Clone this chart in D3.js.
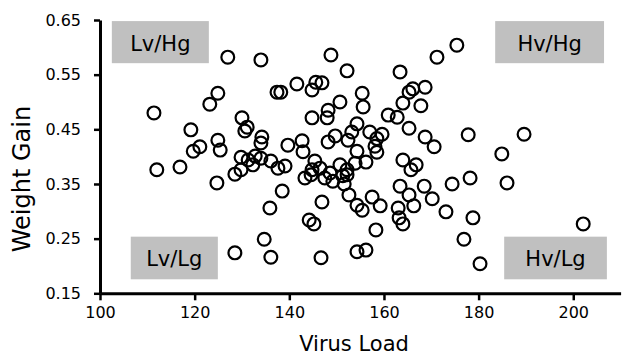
<!DOCTYPE html>
<html>
<head>
<meta charset="utf-8">
<script src="https://cdn.jsdelivr.net/npm/d3@7"></script>
<style>
    body { margin: 0; background: #fff; }
    text { font-family: 'DejaVu Sans', sans-serif; fill: #000; }
</style>
</head>
<body>
<div id="chart"></div>
<script>
// virus load / weight gain pairs
const virusLoad = [
    127.0, 134.0, 111.4, 124.9, 123.2, 119.2, 121.1, 119.7, 124.9, 125.4,
    112.0, 116.9, 124.7, 128.5, 129.8, 130.0, 131.1, 130.6, 134.2, 134.0,
    139.7, 142.7, 142.9, 129.8, 131.3, 132.8, 134.0, 132.3, 136.1, 137.6,
    139.1, 143.3, 144.6, 138.5, 135.9, 134.7, 136.1, 128.5, 148.8, 152.2,
    141.6, 137.4, 138.2, 145.6, 146.9, 144.8, 155.4, 155.6, 150.7, 148.2,
    148.0, 144.8, 149.7, 148.2, 152.4, 154.3, 153.2, 157.0, 159.6, 158.5,
    158.1, 158.5, 154.3, 145.4, 146.5, 144.8, 148.6, 147.5, 149.2, 150.7,
    152.2, 152.2, 151.3, 153.9, 151.6, 152.6, 146.9, 157.5, 154.3, 159.2,
    155.4, 144.2, 145.2, 158.3, 146.7, 154.3, 156.2, 175.4, 171.2, 163.4,
    168.7, 166.1, 165.3, 164.0, 167.8, 160.9, 162.8, 165.3, 168.7, 170.6,
    177.8, 189.6, 184.9, 164.0, 165.7, 166.8, 156.2, 163.4, 168.5, 174.4,
    178.2, 186.0, 165.3, 170.2, 166.3, 163.0, 163.2, 164.0, 173.1, 178.8,
    176.9, 180.3, 202.1
];
const weightGain = [
    0.582, 0.577, 0.480, 0.516, 0.496, 0.449, 0.418, 0.410, 0.430, 0.412,
    0.376, 0.381, 0.352, 0.368, 0.376, 0.471, 0.454, 0.447, 0.436, 0.425,
    0.421, 0.429, 0.409, 0.399, 0.394, 0.401, 0.397, 0.385, 0.392, 0.379,
    0.383, 0.361, 0.367, 0.337, 0.306, 0.249, 0.216, 0.224, 0.586, 0.557,
    0.533, 0.518, 0.518, 0.536, 0.535, 0.522, 0.516, 0.491, 0.500, 0.485,
    0.471, 0.471, 0.438, 0.427, 0.430, 0.460, 0.445, 0.445, 0.441, 0.433,
    0.419, 0.408, 0.410, 0.392, 0.379, 0.376, 0.370, 0.361, 0.355, 0.385,
    0.376, 0.367, 0.365, 0.388, 0.350, 0.330, 0.317, 0.326, 0.311, 0.310,
    0.302, 0.284, 0.277, 0.266, 0.215, 0.226, 0.229, 0.604, 0.582, 0.555,
    0.527, 0.524, 0.518, 0.498, 0.493, 0.476, 0.472, 0.452, 0.436, 0.418,
    0.440, 0.441, 0.405, 0.394, 0.376, 0.385, 0.390, 0.346, 0.346, 0.350,
    0.361, 0.352, 0.330, 0.323, 0.310, 0.306, 0.288, 0.277, 0.299, 0.288,
    0.249, 0.204, 0.277
];
const xTicks = [100, 120, 140, 160, 180, 200];
const yTicks = [0.15, 0.25, 0.35, 0.45, 0.55, 0.65];

// quadrant label boxes, in data units
const quadLabels = ['Lv/Hg', 'Hv/Hg', 'Lv/Lg', 'Hv/Lg'];
const quadX = [[102.5, 123.0], [183.5, 206.5], [106.5, 124.9], [185.4, 207.1]];
const quadY = [[0.648, 0.571], [0.648, 0.571], [0.2536, 0.1756], [0.2536, 0.1756]];

let width = 630;
let height = 359;
let margin = { top: 20, right: 9.4, bottom: 65.7, left: 100 };

let x = d3.scaleLinear()
    .domain([100, 210])
    .range([margin.left, width - margin.right]);

let y = d3.scaleLinear()
    .domain([0.15, 0.65])
    .range([height - margin.bottom, margin.top]);

const svg = d3.select('#chart')
    .append('svg')
    .attr('width', width)
    .attr('height', height);

// quadrant boxes
let quads = svg.append('g')
    .selectAll('g')
    .data(quadLabels)
    .join('g');

quads.append('rect')
    .attr('x', (d, i) => x(quadX[i][0]))
    .attr('y', (d, i) => y(quadY[i][0]))
    .attr('width', (d, i) => x(quadX[i][1]) - x(quadX[i][0]))
    .attr('height', (d, i) => y(quadY[i][1]) - y(quadY[i][0]))
    .attr('fill', '#c0c0c0');

quads.append('text')
    .attr('x', (d, i) => (x(quadX[i][0]) + x(quadX[i][1])) / 2)
    .attr('y', (d, i) => (y(quadY[i][0]) + y(quadY[i][1])) / 2 + 8.5)
    .attr('text-anchor', 'middle')
    .style('font-size', '21px')
    .text(d => d);

let xAxis = (g) => g
    .attr('transform', `translate(0,${height - margin.bottom})`)
    .call(d3.axisBottom(x).tickValues(xTicks).tickSize(7).tickPadding(6).tickSizeOuter(0))
    .call(g => g.select('.domain').attr('stroke-width', 3))
    .call(g => g.selectAll('.tick line').attr('stroke-width', 2.5))
    .call(g => g.selectAll('.tick text').style('font-size', '16px').attr('fill', '#000'));

let yAxis = (g) => g
    .attr('transform', `translate(${margin.left},0)`)
    .call(d3.axisLeft(y).tickValues(yTicks).tickFormat(d3.format('.2f')).tickSize(6).tickPadding(13).tickSizeOuter(0))
    .call(g => g.select('.domain').attr('stroke-width', 3))
    .call(g => g.selectAll('.tick line').attr('stroke-width', 2.5))
    .call(g => g.selectAll('.tick text').style('font-size', '16px').attr('fill', '#000'));

svg.append('g').call(xAxis);
svg.append('g').call(yAxis);

// axis titles
svg.append('text')
    .attr('x', 354)
    .attr('y', 351)
    .attr('text-anchor', 'middle')
    .style('font-size', '21px')
    .text('Virus Load');

svg.append('text')
    .attr('transform', 'translate(30,179) rotate(-90)')
    .attr('text-anchor', 'middle')
    .style('font-size', '24px')
    .text('Weight Gain');

// points
svg.append('g')
    .selectAll('circle')
    .data(virusLoad)
    .join('circle')
    .attr('cx', d => x(d))
    .attr('cy', (d, i) => y(weightGain[i]))
    .attr('r', 6.4)
    .attr('fill', 'none')
    .attr('stroke', '#000')
    .attr('stroke-width', 2.2);
</script>
</body>
</html>
